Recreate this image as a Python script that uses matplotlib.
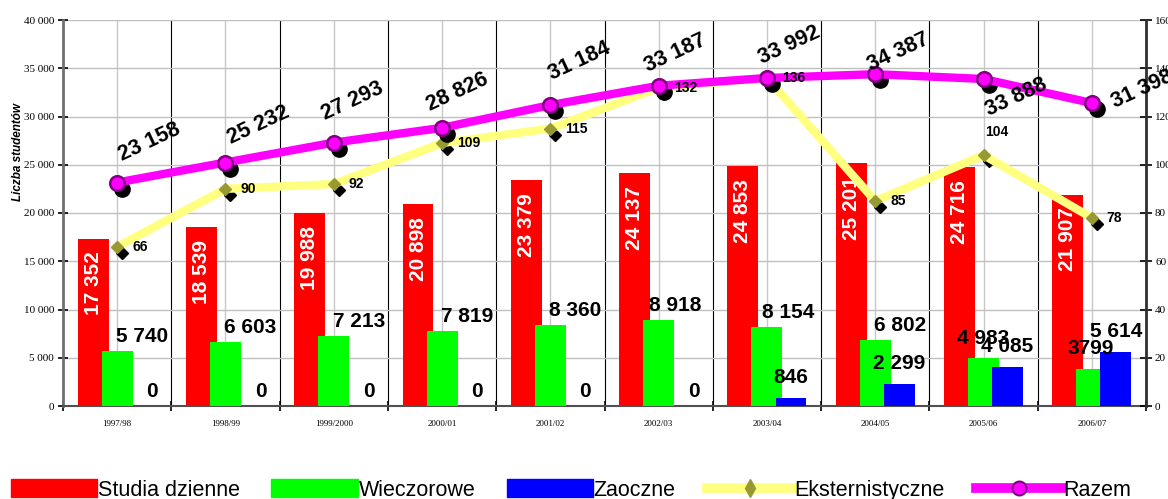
import numpy as np
import matplotlib.pyplot as plt
from matplotlib import transforms
from matplotlib.patches import Patch
from matplotlib.lines import Line2D

plt.rcParams['font.family'] = ['Liberation Sans', 'DejaVu Sans']

years = ['1997/98', '1998/99', '1999/2000', '2000/01', '2001/02',
         '2002/03', '2003/04', '2004/05', '2005/06', '2006/07']
dzienne = [17352, 18539, 19988, 20898, 23379, 24137, 24853, 25201, 24716, 21907]
wieczorowe = [5740, 6603, 7213, 7819, 8360, 8918, 8154, 6802, 4983, 3799]
zaoczne = [0, 0, 0, 0, 0, 0, 846, 2299, 4085, 5614]
eksternistyczne = [66, 90, 92, 109, 115, 132, 136, 85, 104, 78]
razem = [23158, 25232, 27293, 28826, 31184, 33187, 33992, 34387, 33888, 31398]

# label shifts in pixels (labels were dragged around by hand in the original)
razem_shift = [(5, 22), (6, 19), (-9, 23), (-12, 17), (2, 25),
               (-11, 14), (-5, 14), (-4, 3), (5, -37), (23, -5)]
wiecz_shift = {5: (-10, 9), 6: (-5, 9), 8: (-27, 14), 9: (-24, 15)}
eks_shift = {8: (2, 23)}


def fmt(v):
    return f'{v:,}'.replace(',', ' ')


x = np.arange(len(years))
w = 0.286
d = 0.222

fig = plt.figure(figsize=(11.68, 4.99), dpi=100)
ax = fig.add_axes([63 / 1168, 93 / 499, 1083 / 1168, 386 / 499])

ax.bar(x - d, dzienne, w, color='#FF0000', zorder=2)
ax.bar(x, wieczorowe, w, color='#00FF00', zorder=3)
ax.bar(x + d, zaoczne, w, color='#0000FF', zorder=4)

ax.set_xlim(-0.5, len(years) - 0.5)
ax.set_ylim(0, 40000)
yt = np.arange(0, 40001, 5000)
ax.set_yticks(yt, [fmt(v) for v in yt], fontfamily='Liberation Serif', fontsize=8)
ax.set_xticks(x, years, fontfamily='Liberation Serif', fontsize=6.5)
ax.set_xticks(np.arange(-0.5, len(years)), minor=True)
ax.tick_params(axis='x', which='major', length=0, pad=10)
ax.tick_params(axis='x', which='minor', direction='inout', length=7, width=1.2)
ax.tick_params(axis='y', direction='inout', length=7, width=1.2, pad=3)
ax.set_axisbelow(True)
ax.yaxis.grid(True, color='#C0C0C0', lw=1)
ax.xaxis.grid(True, which='major', color='#C8C8C8', lw=1)
ax.xaxis.grid(True, which='minor', color='black', lw=0.8)
for s in ['top', 'right']:
    ax.spines[s].set_visible(False)
ax.spines['left'].set_color('#707070')
ax.spines['left'].set_linewidth(2)
ax.spines['bottom'].set_color('#505050')
ax.spines['bottom'].set_linewidth(1.5)
ax.set_ylabel('Liczba studentów', fontsize=8.5, fontweight='bold', fontstyle='italic')
ax.yaxis.set_label_coords(-0.036, 0.658)

# bar labels
for i in range(len(years)):
    ax.annotate(fmt(dzienne[i]), (x[i] - d, dzienne[i]), xytext=(0, -13),
                textcoords='offset pixels', rotation=90, ha='center', va='top',
                color='white', fontweight='bold', fontsize=15, zorder=6)
    lab = '3799' if wieczorowe[i] == 3799 else fmt(wieczorowe[i])
    dx, dy = wiecz_shift.get(i, (-1, 9))
    ax.annotate(lab, (x[i], wieczorowe[i]), xytext=(dx, dy),
                textcoords='offset pixels', ha='left', va='baseline',
                fontweight='bold', fontsize=15, zorder=6)
    if zaoczne[i] == 0:
        ax.annotate('0', (x[i] + d, 0), xytext=(11, 9), textcoords='offset pixels',
                    ha='center', va='baseline', fontweight='bold', fontsize=15, zorder=6)
    else:
        ax.annotate(fmt(zaoczne[i]), (x[i] + d, zaoczne[i]), xytext=(0, 15),
                    textcoords='offset pixels', ha='center', va='baseline',
                    fontweight='bold', fontsize=15, zorder=6)

# Eksternistyczne on the right axis
ax2 = ax.twinx()
ax2.set_ylim(0, 160)
rt = np.arange(0, 161, 20)
ax2.set_yticks(rt, [str(v) for v in rt], fontfamily='Liberation Serif', fontsize=8)
ax2.tick_params(axis='y', direction='inout', length=9, width=1.2, pad=2)
for s in ['top', 'left', 'bottom']:
    ax2.spines[s].set_visible(False)
ax2.spines['right'].set_color('#303030')
ax2.spines['right'].set_linewidth(2)

shadow2 = transforms.offset_copy(ax2.transData, fig=fig, x=5, y=-6, units='dots')
ax2.plot(x, eksternistyczne, ls='none', marker='D', ms=6.5, color='black',
         transform=shadow2, zorder=2)
ax2.plot(x, eksternistyczne, color='#FFFF80', lw=6, marker='D', ms=6.5,
         mfc='#999933', mec='#999933', zorder=3)

# Razem on top, left scale
ax3 = ax.twinx()
ax3.set_ylim(0, 40000)
ax3.set_yticks([])
for s in ax3.spines.values():
    s.set_visible(False)
shadow3 = transforms.offset_copy(ax3.transData, fig=fig, x=5, y=-6, units='dots')
ax3.plot(x, razem, ls='none', marker='o', ms=11, color='black',
         transform=shadow3, zorder=2)
ax3.plot(x, razem, color='#FF00FF', lw=6, marker='o', ms=10.5,
         mfc='#FF00FF', mec='#800080', mew=1.8, zorder=3)
for i, v in enumerate(razem):
    dx, dy = razem_shift[i]
    ax3.annotate(fmt(v), (x[i], v), xytext=(dx, dy), textcoords='offset pixels',
                 rotation=25, rotation_mode='anchor', ha='left', va='baseline',
                 fontweight='bold', fontsize=15.5, zorder=5)

# eksternistyczne labels sit above everything
for i, v in enumerate(eksternistyczne):
    dx, dy = eks_shift.get(i, (15, 0))
    ax3.annotate(str(v), (x[i], v), xycoords=ax2.transData, xytext=(dx, dy),
                 textcoords='offset pixels', ha='left', va='center',
                 fontweight='bold', fontsize=10, zorder=6)

handles = [
    Patch(color='#FF0000'), Patch(color='#00FF00'), Patch(color='#0000FF'),
    Line2D([], [], color='#FFFF80', lw=7, marker='d', ms=9, mfc='#999933', mec='#999933'),
    Line2D([], [], color='#FF00FF', lw=7, marker='o', ms=10, mfc='#FF00FF',
           mec='#800080', mew=1.5),
]
labels = ['Studia dzienne', 'Wieczorowe', 'Zaoczne', 'Eksternistyczne', 'Razem']
fig.legend(handles, labels, loc='center left', bbox_to_anchor=(11 / 1168, 0.018),
           ncol=5, frameon=False, fontsize=15.5, handlelength=4.0, handleheight=0.9,
           handletextpad=0.05, columnspacing=1.45, borderpad=0, borderaxespad=0)

fig.savefig('out.png', dpi=100)
